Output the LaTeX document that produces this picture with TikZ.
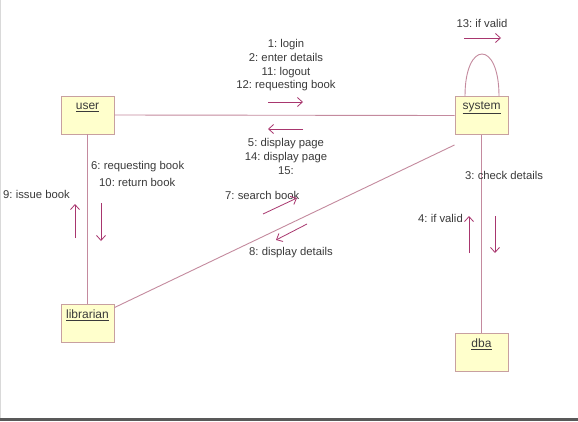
\documentclass[tikz,border=0pt]{standalone}
\usepackage{fontspec}
\setmainfont{Liberation Sans}
\frenchspacing
\usetikzlibrary{arrows.meta}
\definecolor{boxfill}{HTML}{FFFFCC}
\definecolor{boxline}{HTML}{C8A0A0}
\definecolor{linkc}{HTML}{C48A9E}
\definecolor{arrc}{HTML}{A8366E}
\definecolor{txt}{HTML}{3A3A3A}
\tikzset{
  obj/.style={draw=boxline, fill=boxfill, line width=0.9pt, minimum width=53pt, minimum height=38pt, inner sep=0pt},
  objlbl/.style={font=\fontsize{12}{14}\selectfont, text=txt, inner sep=0pt},
  link/.style={draw=linkc, line width=0.9pt},
  msg/.style={draw=arrc, line width=0.8pt, -{Straight Barb[length=5pt,width=9pt]}},
  mtxt/.style={font=\fontsize{11.3}{14}\selectfont, text=txt, inner sep=0pt, align=center}
}
\begin{document}
\begin{tikzpicture}[x=1pt,y=-1pt]
\useasboundingbox (0,0) rectangle (578,421);
\fill[white] (0,0) rectangle (578,421);
% objects
\node[obj] (user) at (87.5,115) {};
\node[obj] (system) at (481.5,115.5) {};
\node[obj] (librarian) at (87.5,323) {};
\node[obj] (dba) at (481.5,352) {};
\node[objlbl] at ([yshift=-12]user.north) {\underline{user}};
\node[objlbl] at ([yshift=-12]system.north) {\underline{system}};
\node[objlbl] at ([yshift=-12]librarian.north) {\underline{librarian}};
\node[objlbl] at ([yshift=-12]dba.north) {\underline{dba}};
% links
\draw[link] (user.east) -- (system.west);
\draw[link] (user.south) -- (librarian.north);
\draw[link] (system.south) -- (dba.north);
\draw[link] ([yshift=-4]librarian.north east) -- ([yshift=-10]system.south west);
\draw[link] ([xshift=-16.5]system.north) .. controls (465,40) and (499,40) .. ([xshift=17.5]system.north);
% messages user -> system
\node[mtxt, anchor=north] (t1) at (286,39.5) {1: login\\[-0.3pt]2: enter details\\[-0.3pt]11: logout\\[-0.3pt]12: requesting book};
\coordinate (a1s) at (268,102); \coordinate (a1e) at (303,102);
\draw[msg] (a1s) -- (a1e);
\coordinate (a2s) at (303,129); \coordinate (a2e) at (268,129);
\draw[msg] (a2s) -- (a2e);
\node[mtxt, anchor=north] (t5) at (286,138.5) {5: display page\\[-0.3pt]14: display page\\[-0.3pt]15:};
% self loop
\node[mtxt] (t13) at (482,23) {13: if valid};
\coordinate (a13s) at (464,38); \coordinate (a13e) at (501,38);
\draw[msg] (a13s) -- (a13e);
% user - librarian
\node[mtxt, anchor=west] (t6) at (91,167) {6: requesting book};
\node[mtxt, anchor=west] (t10) at (99,182) {10: return book};
\node[mtxt, anchor=west] (t9) at (3,194) {9: issue book};
\coordinate (a9s) at (75,238); \coordinate (a9e) at (75,204);
\draw[msg] (a9s) -- (a9e);
\coordinate (a6s) at (101,203); \coordinate (a6e) at (101,241);
\draw[msg] (a6s) -- (a6e);
% system - dba
\node[mtxt, anchor=west] (t3) at (465,175) {3: check details};
\node[mtxt, anchor=west] (t4) at (418,218) {4: if valid};
\coordinate (a4s) at (469,253); \coordinate (a4e) at (469,216);
\draw[msg] (a4s) -- (a4e);
\coordinate (a3s) at (495,216); \coordinate (a3e) at (495,253);
\draw[msg] (a3s) -- (a3e);
% librarian - system
\node[mtxt, anchor=west] (t7) at (225,195) {7: search book};
\coordinate (a7s) at (263,214); \coordinate (a7e) at (297,198);
\draw[msg] (a7s) -- (a7e);
\coordinate (a8s) at (307,224); \coordinate (a8e) at (276,240);
\draw[msg] (a8s) -- (a8e);
\node[mtxt, anchor=west] (t8) at (249,253) {8: display details};
% page rule
\fill[black!65] (0,418) rectangle (578,421);
\draw[black!15, line width=0.5pt] (0.3,0) -- (0.3,418);
\end{tikzpicture}
\end{document}
